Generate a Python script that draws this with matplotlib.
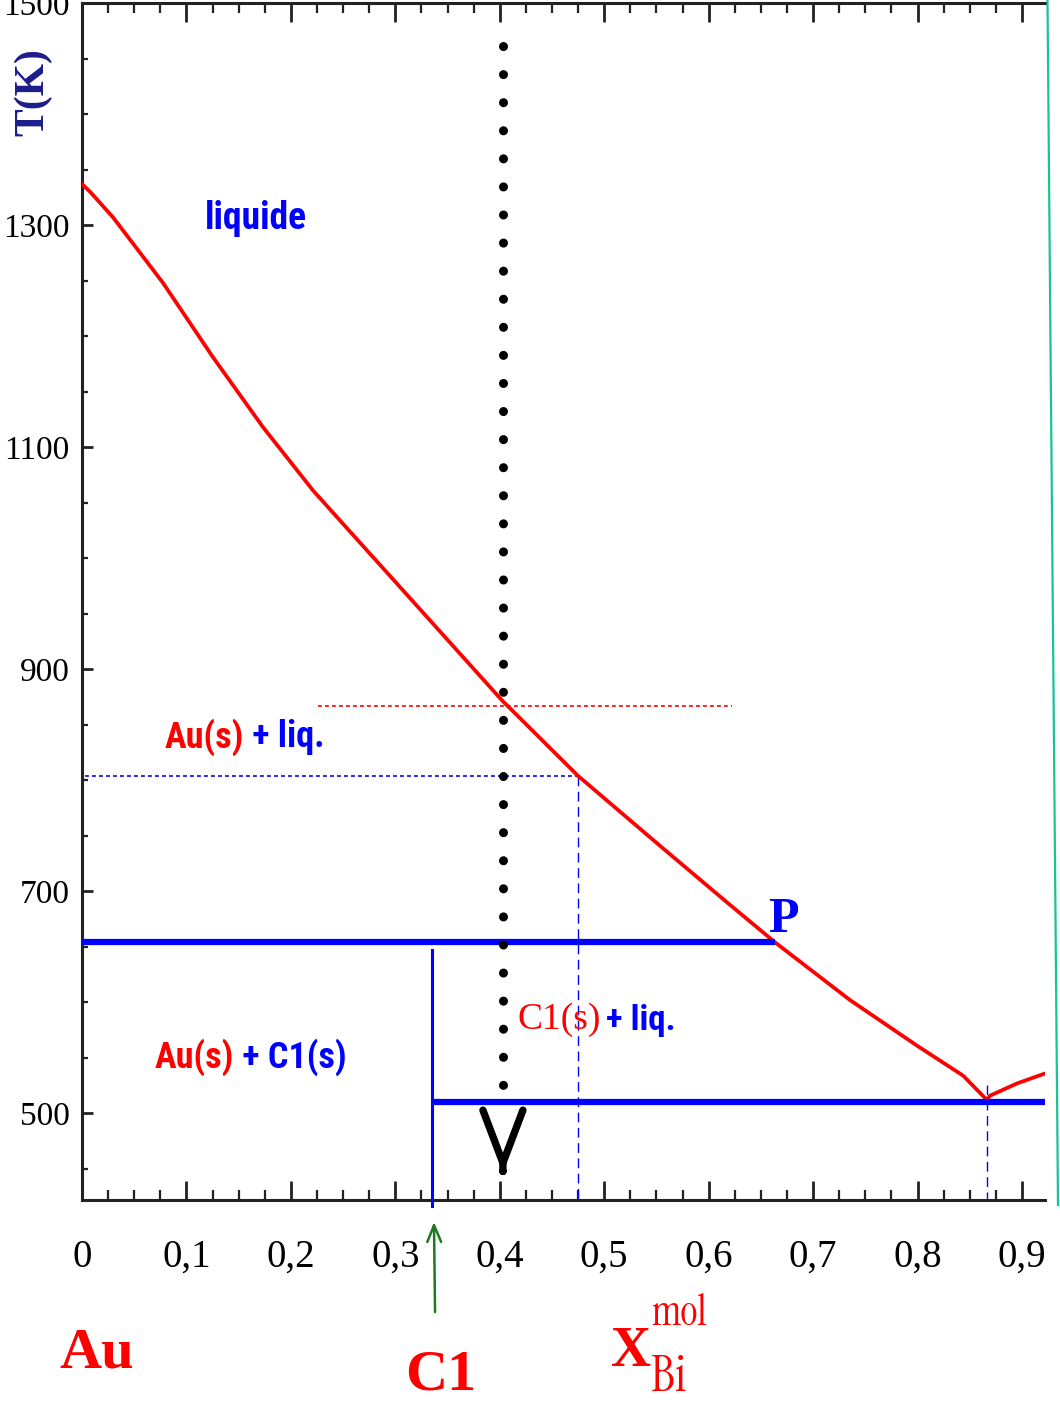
import matplotlib
matplotlib.use("Agg")
import matplotlib.pyplot as plt
from matplotlib.lines import Line2D

# ---------------- data ----------------
liq_x = [0.0, 0.0077, 0.0297, 0.0775, 0.1254, 0.1733, 0.2212, 0.247, 0.3045,
         0.4021, 0.4749, 0.5534, 0.6176, 0.6636, 0.7354, 0.7995, 0.8436, 0.8665]
liq_T = [1337, 1330, 1307, 1248, 1181, 1118, 1061, 1034, 974,
         872, 804, 741, 690, 654, 602, 561, 534, 512]
liq2_x = [0.8665, 0.8694, 0.8953, 0.9221]
liq2_T = [512, 516, 527, 536]

x_P = 0.6636
T_P = 654
x_C1 = 0.335
T_C1_top = 647
T_eut = 510
x_eut = 0.8665
x_max = 0.922

cool_x = 0.403
cool_T_top = 1461
cool_T_end = 511
cool_T_tip = 446
T_first = 867       # red dotted
red_dot_x = [0.226, 0.622]
T_second = 804      # blue dotted
x_second = 0.475

xticks = [0, 0.1, 0.2, 0.3, 0.4, 0.5, 0.6, 0.7, 0.8, 0.9]
xtick_labels = ['0', '0,1', '0,2', '0,3', '0,4', '0,5', '0,6', '0,7', '0,8', '0,9']
yticks = [500, 700, 900, 1100, 1300, 1500]
ytick_labels = ['500', '700', '900', '1100', '1300', '1500']

# ---------------- figure ----------------
W, H = 1060, 1404
fig = plt.figure(figsize=(W / 100, H / 100), dpi=100)
ax = fig.add_axes([82 / W, 1 - 1200 / H, (1045 - 82) / W, (1200 - 3) / H])
ax.set_xlim(0, x_max)
ax.set_ylim(422, 1500)

BLUE = '#0000ff'
RED = '#ff0000'
SANS = 'Roboto Condensed'
NSERIF = 'Instrument Serif'
SERIF = 'Liberation Serif'

ax.plot(liq_x, liq_T, color=RED, lw=2.7, solid_capstyle='round', solid_joinstyle='round', zorder=3)
ax.plot(liq2_x, liq2_T, color=RED, lw=2.7, solid_capstyle='round', solid_joinstyle='round', zorder=3)

ax.plot([0, x_P], [T_P, T_P], color=BLUE, lw=4.5, zorder=4, solid_capstyle='butt')
ax.plot([x_C1, x_max], [T_eut, T_eut], color=BLUE, lw=4.5, zorder=4, solid_capstyle='butt')
ax.plot([x_C1, x_C1], [T_C1_top, 417], color=BLUE, lw=2.2, zorder=4, clip_on=False)

ax.plot(red_dot_x, [T_first, T_first], color=RED, lw=1.4, ls=(0, (2, 1.6)), alpha=0.85, zorder=2)
ax.plot([0.003, x_second], [T_second, T_second], color=BLUE, lw=1.4, ls=(0, (2, 1.6)), alpha=0.85, zorder=2)
ax.plot([x_second, x_second], [T_second, 422], color=BLUE, lw=1.0, ls=(0, (7, 4)), zorder=2)
ax.plot([x_eut, x_eut], [526, 422], color=BLUE, lw=1.0, ls=(0, (7, 4)), zorder=2)

# cooling path (dotted) + arrow head
ax.plot([cool_x, cool_x], [cool_T_top, cool_T_end], color='black', lw=6.5,
        ls=(0, (0.01, 3.1)), dash_capstyle='round', zorder=5)
ax.annotate('', xy=(cool_x, cool_T_tip), xytext=(cool_x, cool_T_tip + 2),
            arrowprops=dict(arrowstyle='->,head_length=1.9,head_width=0.72',
                            lw=5.3, color='black', mutation_scale=20,
                            joinstyle='round', capstyle='round',
                            shrinkA=0, shrinkB=0), zorder=5)

# axes styling
for s in ['left', 'bottom', 'top']:
    ax.spines[s].set_linewidth(2.2)
    ax.spines[s].set_color('#222222')
ax.spines['right'].set_visible(False)

ax.set_xticks(xticks)
ax.set_xticklabels(xtick_labels)
ax.set_xticks([i * 0.025 for i in range(37)], minor=True)
ax.set_yticks(yticks)
ax.set_yticklabels(ytick_labels)
ax.set_yticks(list(range(450, 1501, 50)), minor=True)
ax.tick_params(which='both', direction='in', top=True, right=False, color='#222222')
ax.tick_params(axis='x', which='major', length=14, width=2.0, pad=28)
ax.tick_params(axis='x', which='minor', length=7, width=1.6)
ax.tick_params(axis='y', which='major', length=8, width=2.0, pad=9)
ax.tick_params(axis='y', which='minor', length=4, width=1.6)
for lab in ax.get_xticklabels():
    lab.set_fontfamily(SERIF)
    lab.set_fontsize(28)
for lab in ax.get_yticklabels():
    lab.set_fontfamily(SERIF)
    lab.set_fontsize(24)

# y label
fig.text(33 / W, 1 - 92 / H, 'T(K)', rotation=90, ha='center', va='center',
         color='#1c1c8c', fontsize=30, fontweight='bold', family=SERIF)

# region labels
ax.text(0.118, 1306, 'liquide', color=BLUE, fontsize=27, fontweight='bold', family=SANS,
        ha='left', va='center')

t1 = ax.text(0.079, 839, 'Au(s)', color=RED, fontsize=26, fontweight='bold', family=SANS,
             ha='left', va='center')
ax.annotate(' + liq.', xy=(1, 0.5), xycoords=t1, color=BLUE, fontsize=26, fontweight='bold',
            family=SANS, ha='left', va='center')

t2 = ax.text(0.0695, 551, 'Au(s)', color=RED, fontsize=26, fontweight='bold', family=SANS,
             ha='left', va='center')
ax.annotate(' + C1(s)', xy=(1, 0.5), xycoords=t2, color=BLUE, fontsize=26, fontweight='bold',
            family=SANS, ha='left', va='center')

t3 = ax.text(0.417, 584, 'C1(s)', color=RED, fontsize=27, family=SERIF,
             ha='left', va='center')
ax.annotate('+ liq.', xy=(1, 0.5), xycoords=t3, color=BLUE, fontsize=25, fontweight='bold',
            family=SANS, ha='left', va='center', xytext=(4, 0), textcoords='offset points')

ax.text(0.657, 663, 'P', color=BLUE, fontsize=36, fontweight='bold', family=SERIF,
        ha='left', va='baseline')

# labels below axis (figure pixel positions)
fig.text(97 / W, 1 - 1367 / H, 'Au', color=RED, fontsize=42, fontweight='bold', family=SERIF,
         ha='center', va='baseline')
fig.text(441 / W, 1 - 1390 / H, 'C1', color=RED, fontsize=42, fontweight='bold', family=SERIF,
         ha='center', va='baseline')
fig.text(611 / W, 1 - 1366 / H, 'X', color=RED, fontsize=40, fontweight='bold', family=SERIF,
         ha='left', va='baseline')
fig.text(651 / W, 1 - 1325 / H, 'mol', color=RED, fontsize=30, family=NSERIF,
         ha='left', va='baseline')
fig.text(651 / W, 1 - 1391 / H, 'Bi', color=RED, fontsize=36, family=NSERIF,
         ha='left', va='baseline')

# green arrow pointing at C1
ax.annotate('', xy=(0.337, -0.0184), xycoords=('data', 'axes fraction'),
            xytext=(0.338, -0.0936), textcoords=('data', 'axes fraction'),
            arrowprops=dict(arrowstyle='->,head_length=0.6,head_width=0.25', lw=1.8,
                            color='#1e7a1e', mutation_scale=20, shrinkA=0, shrinkB=0),
            annotation_clip=False)

# teal line at right edge of the figure
fig.add_artist(Line2D([1047.5 / W, 1058 / W], [1.0, 1 - 1205 / H], transform=fig.transFigure,
                      color='#19c39a', lw=1.6))

fig.savefig('out.png', dpi=100)
